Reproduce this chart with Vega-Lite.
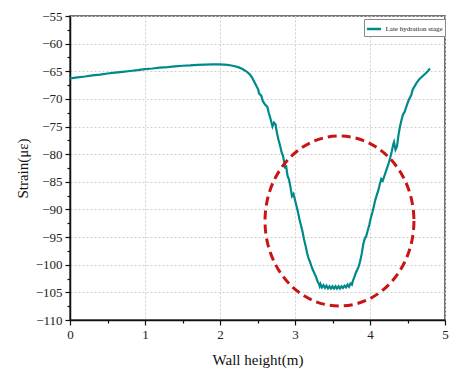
{
  "$schema": "https://vega.github.io/schema/vega-lite/v6.json",
  "width": 375,
  "height": 304,
  "autosize": {"type": "none"},
  "padding": {"left": 70, "top": 16, "right": 13, "bottom": 49},
  "background": "white",
  "config": {
    "view": {"stroke": "#444", "strokeWidth": 1.5},
    "axis": {
      "labelFont": "Liberation Serif",
      "titleFont": "Liberation Serif",
      "labelFontSize": 13,
      "titleFontSize": 15,
      "titleFontWeight": "normal",
      "labelColor": "#222",
      "titleColor": "#111",
      "domainColor": "#111",
      "domainWidth": 1.5,
      "tickColor": "#111",
      "tickWidth": 1.2,
      "gridColor": "#cfcfcf",
      "gridDash": [2, 2],
      "gridWidth": 1,
      "labelFlush": false,
      "labelOverlap": false,
      "labelPadding": 3
    }
  },
  "resolve": {"axis": {"x": "independent", "y": "independent"}},
  "datasets": {
    "curve": [
      {"h": 0.0, "s": -66.3}, {"h": 0.1, "s": -66.1}, {"h": 0.2, "s": -65.95}, {"h": 0.3, "s": -65.75},
      {"h": 0.4, "s": -65.6}, {"h": 0.5, "s": -65.4}, {"h": 0.6, "s": -65.25}, {"h": 0.7, "s": -65.1},
      {"h": 0.8, "s": -64.95}, {"h": 0.9, "s": -64.8}, {"h": 1.0, "s": -64.6}, {"h": 1.1, "s": -64.5},
      {"h": 1.2, "s": -64.35}, {"h": 1.3, "s": -64.25}, {"h": 1.4, "s": -64.1}, {"h": 1.5, "s": -64.0},
      {"h": 1.6, "s": -63.95}, {"h": 1.7, "s": -63.85}, {"h": 1.8, "s": -63.8}, {"h": 1.9, "s": -63.75},
      {"h": 2.0, "s": -63.75}, {"h": 2.05, "s": -63.8}, {"h": 2.1, "s": -63.85}, {"h": 2.15, "s": -63.95},
      {"h": 2.2, "s": -64.1}, {"h": 2.25, "s": -64.3}, {"h": 2.3, "s": -64.6}, {"h": 2.35, "s": -65.0},
      {"h": 2.4, "s": -65.6}, {"h": 2.43, "s": -66.2}, {"h": 2.46, "s": -67.0}, {"h": 2.49, "s": -67.8},
      {"h": 2.51, "s": -68.3}, {"h": 2.52, "s": -69.0}, {"h": 2.55, "s": -69.4}, {"h": 2.57, "s": -70.4},
      {"h": 2.6, "s": -71.0}, {"h": 2.63, "s": -71.4}, {"h": 2.65, "s": -72.5}, {"h": 2.67, "s": -73.4},
      {"h": 2.69, "s": -74.5}, {"h": 2.7, "s": -75.0}, {"h": 2.72, "s": -74.3}, {"h": 2.74, "s": -74.6},
      {"h": 2.76, "s": -76.2}, {"h": 2.78, "s": -77.4}, {"h": 2.8, "s": -78.4}, {"h": 2.82, "s": -79.6},
      {"h": 2.84, "s": -80.3}, {"h": 2.86, "s": -81.8}, {"h": 2.87, "s": -82.6}, {"h": 2.88, "s": -82.0},
      {"h": 2.9, "s": -83.9}, {"h": 2.92, "s": -84.6}, {"h": 2.94, "s": -86.0}, {"h": 2.96, "s": -87.6},
      {"h": 2.98, "s": -87.2}, {"h": 3.0, "s": -88.3}, {"h": 3.02, "s": -89.4}, {"h": 3.04, "s": -90.5},
      {"h": 3.06, "s": -91.8}, {"h": 3.08, "s": -92.9}, {"h": 3.1, "s": -94.0}, {"h": 3.12, "s": -95.4},
      {"h": 3.14, "s": -96.5}, {"h": 3.16, "s": -97.8}, {"h": 3.18, "s": -98.8}, {"h": 3.2, "s": -99.5},
      {"h": 3.22, "s": -100.3}, {"h": 3.24, "s": -101.0}, {"h": 3.26, "s": -101.6}, {"h": 3.28, "s": -102.2},
      {"h": 3.3, "s": -103.0}, {"h": 3.32, "s": -103.5}, {"h": 3.33, "s": -103.9}, {"h": 3.34, "s": -103.5},
      {"h": 3.36, "s": -104.1}, {"h": 3.38, "s": -103.7}, {"h": 3.4, "s": -104.2}, {"h": 3.42, "s": -103.8},
      {"h": 3.44, "s": -104.3}, {"h": 3.46, "s": -103.9}, {"h": 3.48, "s": -104.3}, {"h": 3.5, "s": -103.9},
      {"h": 3.52, "s": -104.3}, {"h": 3.54, "s": -103.9}, {"h": 3.56, "s": -104.3}, {"h": 3.58, "s": -103.9},
      {"h": 3.6, "s": -104.3}, {"h": 3.62, "s": -103.9}, {"h": 3.64, "s": -104.2}, {"h": 3.66, "s": -103.8},
      {"h": 3.68, "s": -104.1}, {"h": 3.7, "s": -103.6}, {"h": 3.72, "s": -104.0}, {"h": 3.74, "s": -103.4},
      {"h": 3.76, "s": -103.6}, {"h": 3.77, "s": -103.0}, {"h": 3.79, "s": -102.3}, {"h": 3.81, "s": -101.5},
      {"h": 3.83, "s": -100.9}, {"h": 3.85, "s": -100.3}, {"h": 3.87, "s": -99.3}, {"h": 3.89, "s": -98.0},
      {"h": 3.91, "s": -96.3}, {"h": 3.93, "s": -95.3}, {"h": 3.95, "s": -94.8}, {"h": 3.97, "s": -93.8},
      {"h": 3.99, "s": -92.8}, {"h": 4.01, "s": -91.6}, {"h": 4.03, "s": -90.6}, {"h": 4.05, "s": -89.5},
      {"h": 4.07, "s": -88.3}, {"h": 4.09, "s": -87.4}, {"h": 4.11, "s": -86.6}, {"h": 4.13, "s": -85.5},
      {"h": 4.15, "s": -84.5}, {"h": 4.17, "s": -84.8}, {"h": 4.19, "s": -84.0}, {"h": 4.21, "s": -83.2},
      {"h": 4.23, "s": -82.4}, {"h": 4.25, "s": -81.6}, {"h": 4.27, "s": -80.6}, {"h": 4.29, "s": -79.5},
      {"h": 4.31, "s": -78.2}, {"h": 4.32, "s": -77.8}, {"h": 4.34, "s": -79.2}, {"h": 4.36, "s": -78.6},
      {"h": 4.38, "s": -76.5}, {"h": 4.4, "s": -75.0}, {"h": 4.42, "s": -73.8}, {"h": 4.44, "s": -72.8},
      {"h": 4.46, "s": -72.4}, {"h": 4.48, "s": -71.6}, {"h": 4.5, "s": -70.8}, {"h": 4.52, "s": -70.1},
      {"h": 4.55, "s": -69.3}, {"h": 4.57, "s": -68.3}, {"h": 4.6, "s": -67.6}, {"h": 4.63, "s": -66.9},
      {"h": 4.66, "s": -66.4}, {"h": 4.7, "s": -65.9}, {"h": 4.74, "s": -65.4}, {"h": 4.77, "s": -65.0},
      {"h": 4.8, "s": -64.5}
    ],
    "ellipse": [{"h": 3.593, "s": -92.09}]
  },
  "layer": [
    {
      "data": {"name": "curve"},
      "transform": [{"calculate": "'Late hydration stage'", "as": "series"}],
      "mark": {"type": "line", "strokeWidth": 2.2, "interpolate": "linear"},
      "encoding": {
        "x": {
          "field": "h", "type": "quantitative",
          "scale": {"domain": [0, 5], "nice": false, "zero": false},
          "axis": {
            "title": "Wall height(m)",
            "orient": "bottom",
            "values": [0, 1, 2, 3, 4, 5],
            "format": "d",
            "labelOverlap": false,
            "tickSize": 5,
            "titlePadding": 11
          }
        },
        "y": {
          "field": "s", "type": "quantitative",
          "scale": {"domain": [-110, -55], "nice": false, "zero": false},
          "axis": {
            "title": "Strain(με)",
            "orient": "left",
            "values": [-110, -105, -100, -95, -90, -85, -80, -75, -70, -65, -60, -55],
            "format": "d",
            "labelOverlap": false,
            "tickSize": 5,
            "titlePadding": 5
          }
        },
        "color": {
          "field": "series", "type": "nominal",
          "scale": {"range": ["#00898a"]},
          "legend": {
            "title": null,
            "orient": "none",
            "legendX": 294,
            "legendY": 3,
            "symbolType": "stroke",
            "symbolSize": 200,
            "symbolStrokeWidth": 2.5,
            "labelFont": "Liberation Serif",
            "labelFontSize": 7,
            "labelColor": "#222",
            "labelOffset": 3,
            "strokeColor": "#888",
            "fillColor": "white",
            "padding": 1.5
          }
        }
      }
    },
    {
      "data": {"name": "ellipse"},
      "mark": {
        "type": "point",
        "shape": "M 0.876 0 C 0.876 0.5523 0.4838 1 0 1 C -0.4838 1 -0.876 0.5523 -0.876 0 C -0.876 -0.5523 -0.4838 -1 0 -1 C 0.4838 -1 0.876 -0.5523 0.876 0 Z",
        "size": 28900,
        "filled": false,
        "stroke": "#c81414",
        "strokeWidth": 3,
        "strokeDash": [9, 5],
        "opacity": 1
      },
      "encoding": {
        "x": {
          "field": "h", "type": "quantitative",
          "axis": {"orient": "bottom", "values": [0.5, 1.5, 2.5, 3.5, 4.5], "labels": false, "grid": false, "domain": false, "tickSize": 3, "title": null}
        },
        "y": {
          "field": "s", "type": "quantitative",
          "axis": {"orient": "left", "values": [-107.5, -102.5, -97.5, -92.5, -87.5, -82.5, -77.5, -72.5, -67.5, -62.5, -57.5], "labels": false, "grid": false, "domain": false, "tickSize": 3, "title": null}
        }
      }
    }
  ]
}
